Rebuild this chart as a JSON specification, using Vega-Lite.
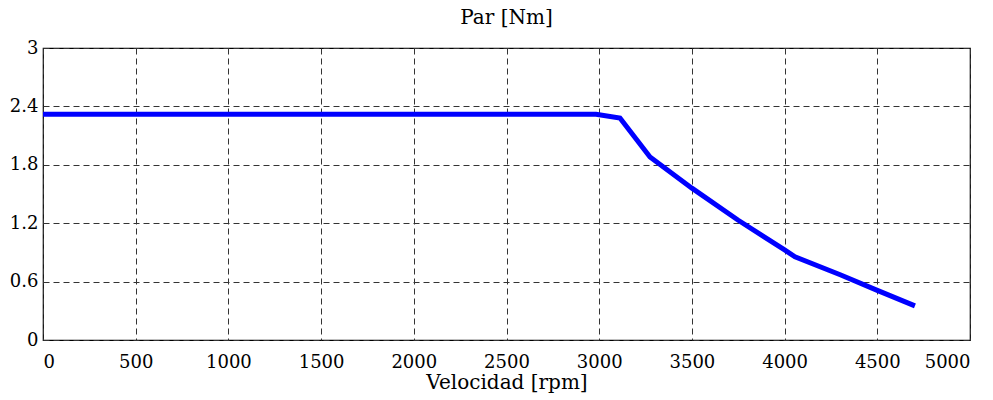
{
  "$schema": "https://vega.github.io/schema/vega-lite/v6.json",
  "autosize": "none",
  "width": 927,
  "height": 292,
  "padding": {"left": 43, "top": 48, "right": 23, "bottom": 60},
  "background": "white",
  "config": {
    "font": "DejaVu Serif",
    "view": {"stroke": "black", "strokeWidth": 1.2},
    "axis": {
      "domain": false,
      "labelFont": "DejaVu Serif",
      "labelFontSize": 18,
      "labelColor": "black",
      "titleFont": "DejaVu Serif",
      "titleFontSize": 20,
      "titleFontWeight": "normal",
      "titleColor": "black",
      "grid": true,
      "gridColor": "#333333",
      "gridDash": [6, 4],
      "gridWidth": 1,
      "ticks": false
    }
  },
  "title": {
    "text": "Par [Nm]",
    "font": "DejaVu Serif",
    "fontSize": 20,
    "fontWeight": "normal",
    "color": "black",
    "anchor": "middle",
    "offset": 11
  },
  "data": {
    "values": [
      {"v": 0, "par": 2.32},
      {"v": 2983, "par": 2.32},
      {"v": 3112, "par": 2.28},
      {"v": 3274, "par": 1.88},
      {"v": 3500, "par": 1.56},
      {"v": 3750, "par": 1.23},
      {"v": 4000, "par": 0.925},
      {"v": 4056, "par": 0.855},
      {"v": 4300, "par": 0.67},
      {"v": 4500, "par": 0.51},
      {"v": 4703, "par": 0.35}
    ]
  },
  "mark": {"type": "line", "color": "#0000ff", "strokeWidth": 5, "clip": true},
  "encoding": {
    "x": {
      "field": "v",
      "type": "quantitative",
      "scale": {"domain": [0, 5000], "nice": false, "zero": false},
      "axis": {"values": [0, 500, 1000, 1500, 2000, 2500, 3000, 3500, 4000, 4500, 5000], "title": "Velocidad [rpm]", "labelPadding": 13, "titlePadding": 1, "format": "d"}
    },
    "y": {
      "field": "par",
      "type": "quantitative",
      "scale": {"domain": [0, 3], "nice": false},
      "axis": {"values": [0, 0.6, 1.2, 1.8, 2.4, 3], "title": null, "labelPadding": 5, "format": "~g"}
    }
  }
}
